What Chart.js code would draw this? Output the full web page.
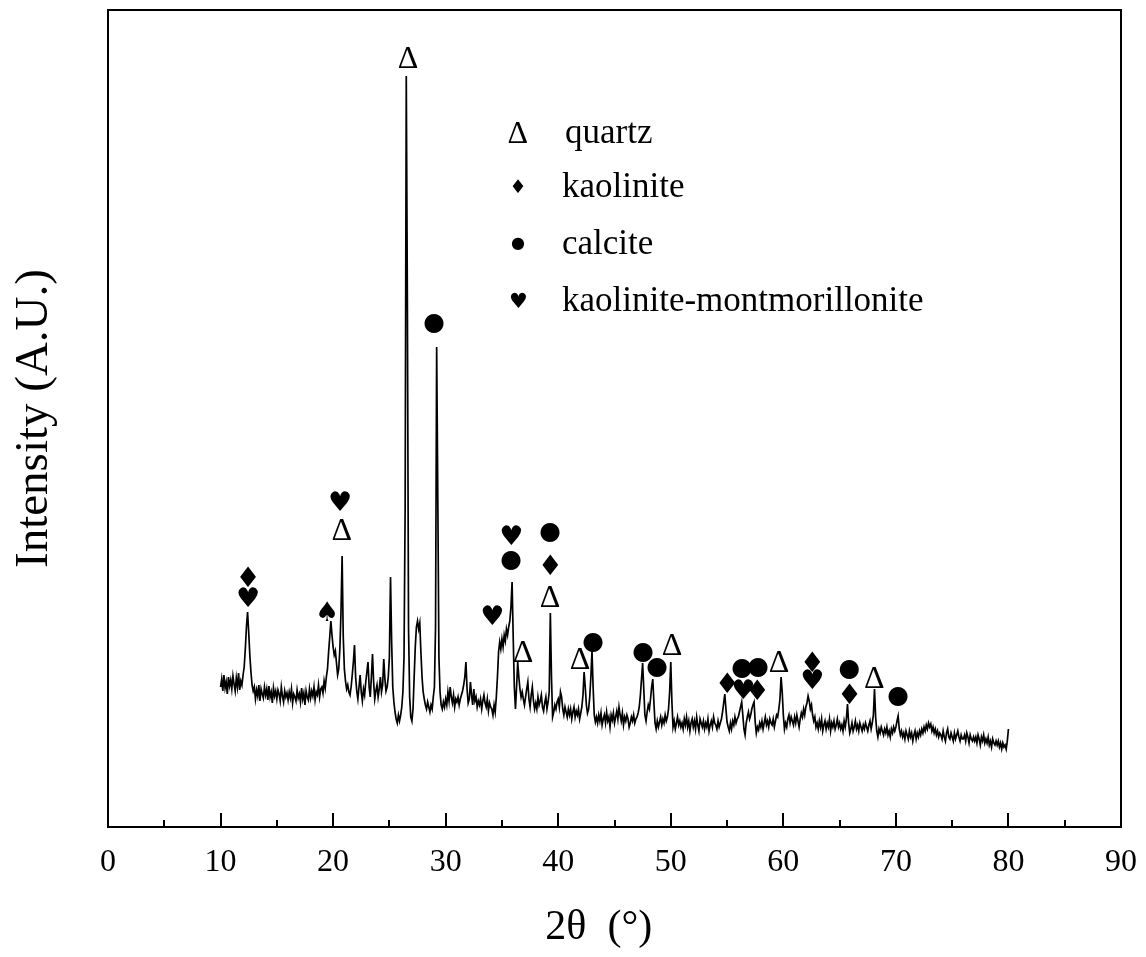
<!DOCTYPE html>
<html>
<head>
<meta charset="utf-8">
<script src="https://cdn.jsdelivr.net/npm/chart.js@4.4.1/dist/chart.umd.min.js"></script>
<style>
  body { margin: 0; background: #fff; }
  #wrap { width: 1146px; height: 957px; }
</style>
</head>
<body>
<div id="wrap"><canvas id="xrd" width="1146" height="957"></canvas></div>
<script>
// scan: 10.0 .. 80.0 deg, step 0.1 (one row per degree)
var scanStart = 10;
var scanStep = 0.1;
var intensity = [
  140,148,136,152,139,145,133,150,141,147, // 10
  138,151,143,136,149,140,154,137,146,142, // 11
  152,160,178,200,215,195,172,155,142,136, // 12
  140,128,137,131,142,126,138,133,129,140, // 13
  132,138,127,141,130,135,124,139,131,136, // 14
  128,137,133,126,140,131,125,136,130,134, // 15
  127,135,129,138,124,133,130,126,137,129, // 16
  133,125,139,128,134,122,136,130,127,138, // 17
  129,136,131,140,127,135,132,142,130,138, // 18
  140,134,146,139,150,158,175,190,206,192, // 19
  180,172,176,164,152,158,178,215,271,190, // 20
  158,146,138,142,135,132,140,152,165,182, // 21
  150,136,128,140,152,135,126,138,132,145, // 22
  155,165,140,130,150,173,145,128,136,142, // 23
  130,138,150,135,142,168,148,136,140,150, // 24
  170,250,185,140,125,115,108,104,112,106, // 25
  112,120,135,170,320,751,520,200,130,110, // 26
  106,118,150,180,200,206,198,204,175,150, // 27
  135,128,122,118,125,120,115,122,118,130, // 28
  140,200,480,330,170,135,122,118,125,120, // 29
  128,122,135,126,140,130,124,132,120,128, // 30
  125,130,122,128,132,136,142,150,165,138, // 31
  124,128,145,132,122,138,126,130,120,126, // 32
  122,128,118,126,132,124,120,128,116,124, // 33
  120,118,112,122,115,130,150,175,185,178, // 34
  188,180,192,186,198,192,200,206,220,245, // 35
  190,140,118,140,165,150,138,130,135,128, // 36
  122,130,138,145,128,120,132,140,126,118, // 37
  124,118,130,122,126,132,120,116,124,130, // 38
  118,125,135,214,150,110,115,122,118,125, // 39
  128,120,135,130,118,112,120,115,110,118, // 40
  112,118,108,115,120,110,116,112,118,108, // 41
  114,120,132,155,140,122,114,118,130,150, // 42
  176,140,112,105,110,104,112,106,114,102, // 43
  108,112,104,115,106,110,100,112,107,114, // 44
  104,110,116,108,120,112,106,114,102,110, // 45
  106,112,108,100,104,110,106,112,104,108, // 46
  110,114,120,132,148,164,138,112,106,115, // 47
  122,118,128,140,148,125,104,98,106,100,  // 48
  105,110,102,108,104,112,106,110,118,135, // 49
  165,125,100,106,98,104,110,102,106,100,  // 50
  104,98,108,102,110,100,106,96,104,108,   // 51
  100,106,98,110,102,96,108,104,100,106,   // 52
  98,104,100,108,96,102,106,100,110,104,   // 53
  102,98,106,100,104,108,115,124,133,118,  // 54
  105,100,96,104,98,106,102,110,104,108,   // 55
  110,115,120,125,112,98,92,104,110,115,   // 56
  108,112,118,122,125,105,94,100,97,104,   // 57
  100,106,98,104,110,102,106,100,108,104,  // 58
  102,108,100,106,112,110,118,128,150,135, // 59
  112,98,104,100,108,112,104,110,106,102,  // 60
  110,104,112,106,100,108,114,110,118,112, // 61
  120,124,131,126,118,122,112,106,110,100, // 62
  104,98,106,100,108,96,102,106,98,104,    // 63
  100,108,96,104,100,106,98,102,108,100,   // 64
  104,98,102,96,106,100,108,123,104,94,    // 65
  98,104,96,100,106,98,102,96,104,100,     // 66
  96,102,98,104,100,96,102,106,98,104,     // 67
  112,138,110,96,90,98,94,100,96,92,       // 68
  98,94,100,92,96,90,98,94,100,96,         // 69
  100,106,111,98,92,96,90,94,88,96,        // 70
  92,88,96,90,94,86,92,96,88,94,           // 71
  90,96,92,98,94,100,96,102,98,104,        // 72
  100,103,96,100,94,98,92,96,90,94,        // 73
  92,88,96,90,86,94,98,90,88,94,           // 74
  90,86,94,88,92,96,90,86,92,88,           // 75
  88,92,86,94,90,84,92,88,86,90,           // 76
  86,90,84,92,88,82,90,86,92,84,           // 77
  88,84,90,82,86,80,88,84,82,86,           // 78
  82,86,80,84,78,84,80,82,78,86,           // 79
  98                                       // 80
];

// peak markers: angle, height (same units as intensity), symbol
var markAngle  = [26.67, 28.98, 20.62, 20.8, 12.44, 12.44, 19.47, 34.13, 35.82, 35.82, 39.29, 39.29, 39.29, 36.89, 41.96, 43.11, 47.56, 48.8, 50.13, 55.02, 56.36, 57.78, 56.44, 57.69, 59.64, 62.58, 62.58, 65.87, 65.87, 68.09, 70.22];
var markHeight = [770, 504, 326, 298, 251, 230, 216, 212, 292, 267, 295, 263, 231, 176, 169, 185, 175, 160, 183, 145, 159, 160, 138, 138, 166, 166, 148, 158, 134, 150, 131];
var markSymbol = ['Q', 'C', 'H', 'Q', 'D', 'H', 'S', 'H', 'H', 'C', 'C', 'D', 'Q', 'Q', 'Q', 'C', 'C', 'C', 'Q', 'D', 'C', 'C', 'H', 'D', 'Q', 'D', 'H', 'C', 'D', 'Q', 'C'];

var legendSymbol = ['Q', 'D', 'C', 'H'];
var legendText = ['quartz', 'kaolinite', 'calcite', 'kaolinite-montmorillonite'];

var xTicks = [0, 10, 20, 30, 40, 50, 60, 70, 80, 90];

var serif = '"Liberation Serif", "Times New Roman", serif';
var glyphs = {
  Q: { ch: '\u0394', font: '32px ' + serif },
  D: { ch: '\u2666', font: '28px "DejaVu Sans"' },
  C: { ch: '\u25CF', font: '25px "DejaVu Sans"' },
  H: { ch: '\u2665', font: '27px "DejaVu Sans"' },
  S: { ch: '\u2660', font: '27px "DejaVu Sans"' }
};
var legendGlyphs = {
  Q: { ch: '\u0394', font: '32px ' + serif },
  D: { ch: '\u2666', font: '19px "DejaVu Sans"' },
  C: { ch: '\u25CF', font: '16px "DejaVu Sans"' },
  H: { ch: '\u2665', font: '21px "DejaVu Sans"' }
};

var points = [];
for (var i = 0; i < intensity.length; i++) {
  points.push({ x: +(scanStart + i * scanStep).toFixed(1), y: intensity[i] });
}

function drawGlyph(ctx, g, cx, cy) {
  ctx.font = g.font;
  ctx.textAlign = 'center';
  ctx.textBaseline = 'alphabetic';
  var m = ctx.measureText(g.ch);
  var off = (m.actualBoundingBoxAscent - m.actualBoundingBoxDescent) / 2;
  var dx = (m.actualBoundingBoxLeft - m.actualBoundingBoxRight) / 2;
  ctx.fillText(g.ch, cx + dx, cy + off);
}

var framePlugin = {
  id: 'frame',
  afterDatasetsDraw: function (chart) {
    var ctx = chart.ctx;
    var a = chart.chartArea;
    var xs = chart.scales.x;
    var ys = chart.scales.y;
    ctx.save();
    ctx.strokeStyle = '#000';
    ctx.lineWidth = 2;
    ctx.strokeRect(a.left, a.top, a.right - a.left, a.bottom - a.top);
    // inward ticks, major every 10, minor every 5
    for (var v = 5; v < 90; v += 5) {
      var px = Math.round(xs.getPixelForValue(v));
      var len = (v % 10 === 0) ? 14 : 7;
      ctx.beginPath();
      ctx.moveTo(px, a.bottom);
      ctx.lineTo(px, a.bottom - len);
      ctx.stroke();
    }
    // peak markers
    ctx.fillStyle = '#000';
    for (var k = 0; k < markAngle.length; k++) {
      drawGlyph(ctx, glyphs[markSymbol[k]], xs.getPixelForValue(markAngle[k]), ys.getPixelForValue(markHeight[k]));
    }
    // phase key
    var rowY = [132, 186, 243, 300];
    for (var j = 0; j < legendText.length; j++) {
      drawGlyph(ctx, legendGlyphs[legendSymbol[j]], 518, rowY[j]);
      ctx.font = '35px ' + serif;
      ctx.textAlign = 'left';
      ctx.textBaseline = 'middle';
      ctx.fillText(legendText[j], j === 0 ? 565 : 562, rowY[j] + 2);
    }
    ctx.restore();
  }
};

new Chart(document.getElementById('xrd'), {
  type: 'line',
  data: {
    datasets: [{
      data: points,
      borderColor: '#000',
      borderWidth: 1.7,
      pointRadius: 0,
      tension: 0,
      fill: false
    }]
  },
  options: {
    responsive: false,
    animation: false,
    layout: { padding: { top: 10, right: 25, left: 0, bottom: 0 } },
    plugins: { legend: { display: false }, tooltip: { enabled: false } },
    scales: {
      x: {
        type: 'linear',
        min: 0,
        max: 90,
        afterBuildTicks: function (s) { s.ticks = xTicks.map(function (v) { return { value: v }; }); },
        afterFit: function (s) { s.height = 130; s.paddingLeft = 0; s.paddingRight = 0; },
        grid: { display: false },
        border: { display: false },
        ticks: { color: '#000', padding: 8, font: { family: serif, size: 32 } },
        title: {
          display: true,
          text: '2\u03b8  (\u00b0)   ',
          color: '#000',
          font: { family: serif, size: 42 },
          padding: { top: 0, bottom: 4 }
        }
      },
      y: {
        min: 0,
        max: 817,
        afterFit: function (s) { s.width = 108; },
        grid: { display: false },
        border: { display: false },
        ticks: { display: false },
        title: {
          display: true,
          text: 'Intensity (A.U.)',
          color: '#000',
          font: { family: serif, size: 47 },
          padding: { top: 6, bottom: 0 }
        }
      }
    }
  },
  plugins: [framePlugin]
});
</script>
</body>
</html>
